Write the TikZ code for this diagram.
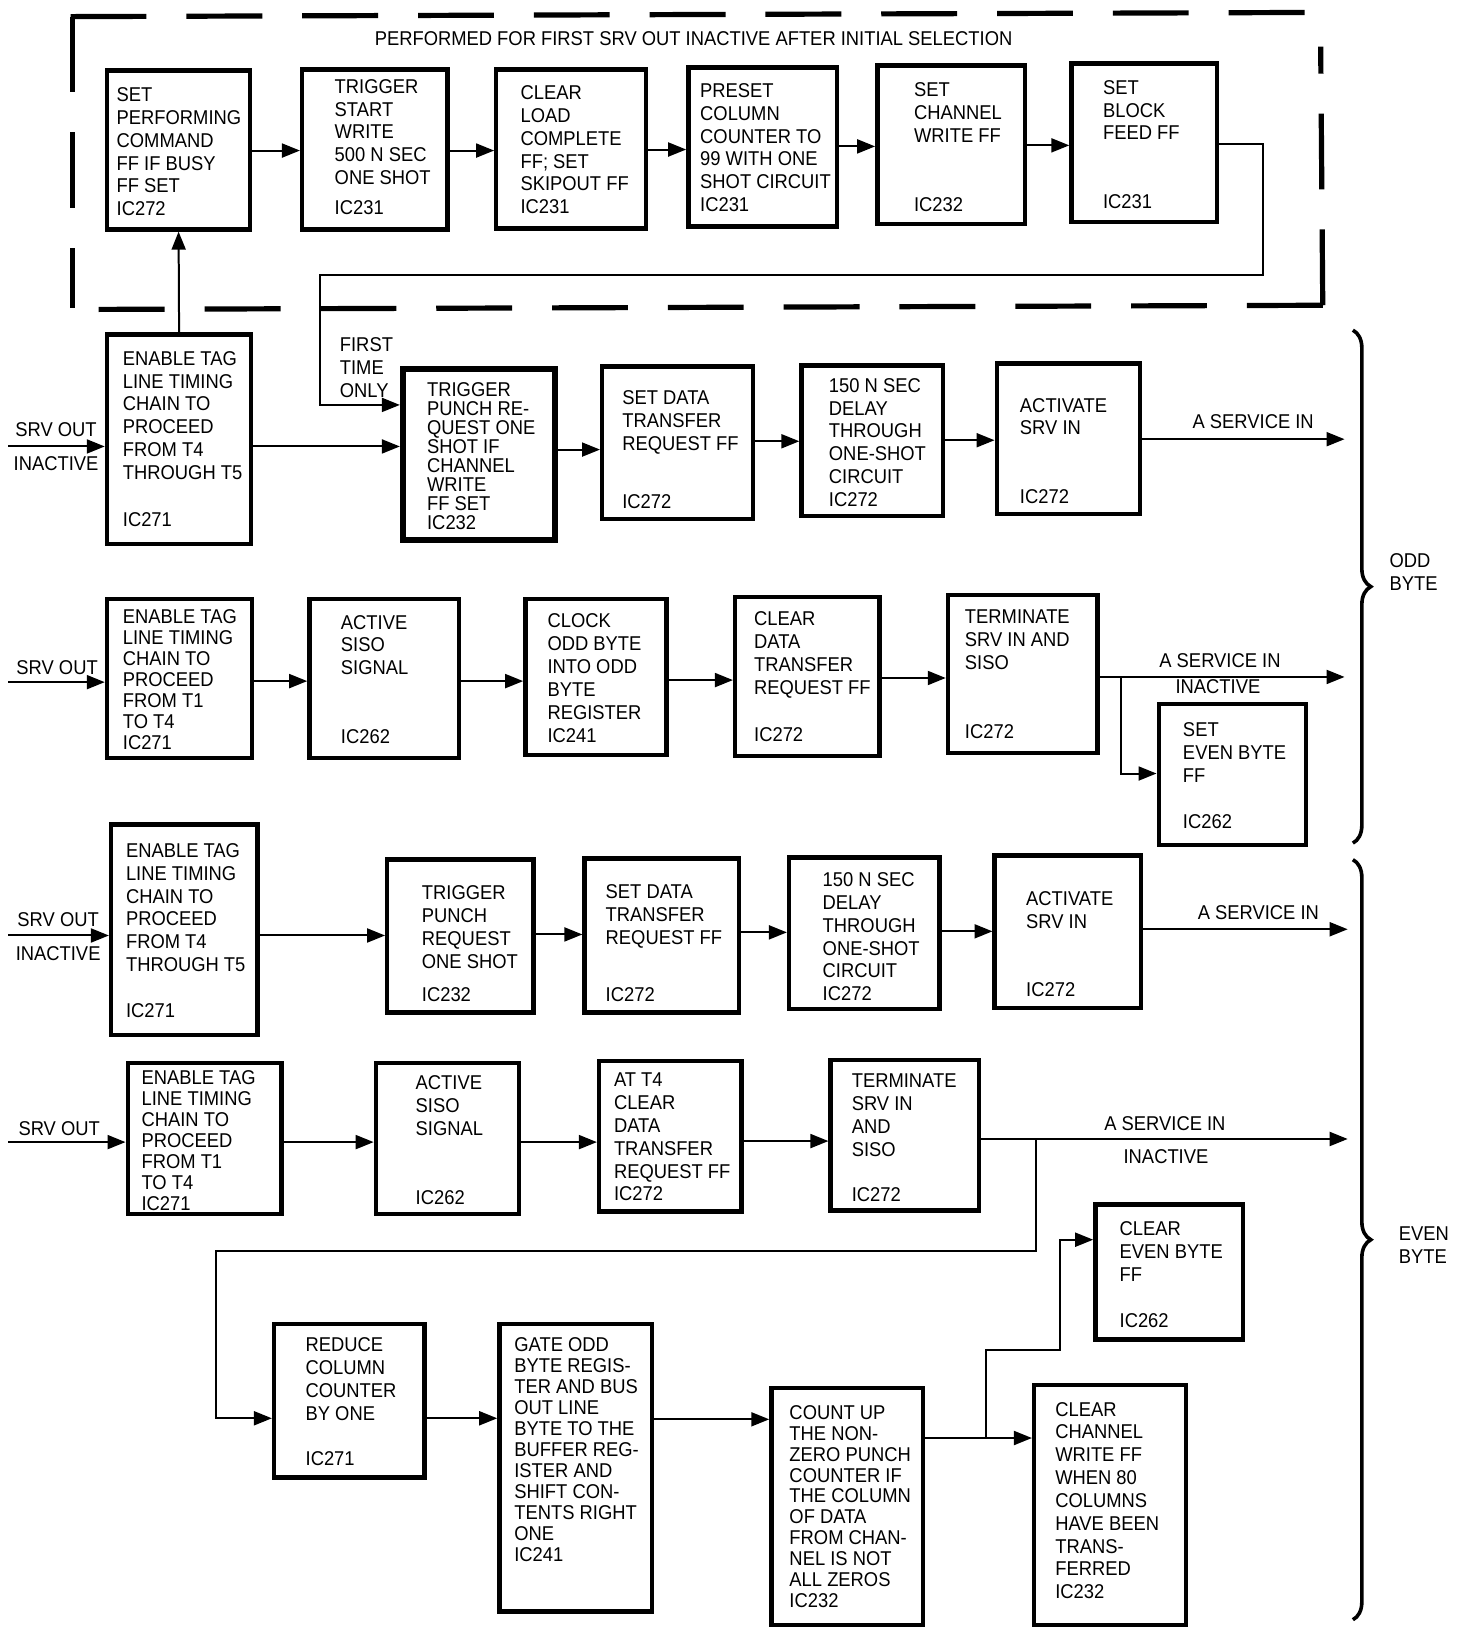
\documentclass[tikz,border=0pt]{standalone}
\usepackage{fontspec}
\setmainfont{Liberation Sans}[FakeStretch=0.92]
\usetikzlibrary{arrows.meta,decorations.pathreplacing}
\newcommand\BX[6][]{\node[box,#1, minimum width={(#5-#3)*0.52pt}, minimum height={(#6-#4)*0.52pt}] (#2) at ({(#3+#5)/2},{(#4+#6)/2}) {};}
\newcommand\TX[5][]{\node[txt,#1] (#2) at (#3,#4-7) {#5};}
\begin{document}
\begin{tikzpicture}[x=0.52pt,y=-0.52pt,
 box/.style={draw, rectangle, line width=2.2pt, inner sep=0pt},
 txt/.style={anchor=north west, inner sep=0pt, align=left, font=\fontsize{10}{11.44}\selectfont},
 tight/.style={font=\fontsize{10}{10.5}\selectfont},
 tighter/.style={font=\fontsize{10}{9.5}\selectfont},
 lbl/.style={inner sep=0pt, font=\fontsize{10}{11.44}\selectfont},
 arr/.style={-{Triangle[length=9pt,width=7pt]}, line width=1pt},
 dframe/.style={line width=2.6pt, dash pattern=on 38pt off 20pt},
 brc/.style={decorate, decoration={brace, amplitude=9pt}, line width=1.8pt}]
\useasboundingbox (0,0) rectangle (1404,1568);

% ---------- dashed frame ----------
\draw[dframe] (68,16) -- (1262,12);
\draw[dframe] (70,16) -- (70,297);
\draw[dframe] (1274,294) -- (95,298);
\draw[dframe] (1274,294) -- (1272,45);
\node[lbl] (title) at (668,37) {PERFORMED FOR FIRST SRV OUT INACTIVE AFTER INITIAL SELECTION};

% ---------- top row ----------
\BX{b1}{103}{68}{241}{221}
\TX{b1t}{112}{91}{SET\\PERFORMING\\COMMAND\\FF IF BUSY\\FF SET\\IC272}
\BX{b2}{291}{67}{431}{221}
\TX{b2t}{322}{83}{TRIGGER\\START\\WRITE\\500 N SEC\\ONE SHOT\\[3.6pt]IC231}
\BX{b3}{478}{67}{622}{220}
\TX{b3t}{501}{89}{CLEAR\\LOAD\\COMPLETE\\FF; SET\\SKIPOUT FF\\IC231}
\BX{b4}{663}{65}{806}{218}
\TX{b4t}{674}{87}{PRESET\\COLUMN\\COUNTER TO\\99 WITH ONE\\SHOT CIRCUIT\\IC231}
\BX{b5}{845}{63}{987}{216}
\TX{b5t}{880}{86}{SET\\CHANNEL\\WRITE FF\\[23.4pt]IC232}
\BX{b6}{1032}{61}{1172}{214}
\TX{b6t}{1062}{84}{SET\\BLOCK\\FEED FF\\[22.9pt]IC231}

% ---------- row 2 (odd byte) ----------
\BX{e1}{103}{322}{242}{524}
\TX{e1t}{118}{345}{ENABLE TAG\\LINE TIMING\\CHAIN TO\\PROCEED\\FROM T4\\THROUGH T5\\[12pt]IC271}
\BX[line width=3pt]{p1}{388}{355}{535}{520}
\TX[tighter]{p1t}{411}{375}{TRIGGER\\PUNCH RE-\\QUEST ONE\\SHOT IF\\CHANNEL\\WRITE\\FF SET\\IC232}
\TX{fto}{327}{332}{FIRST\\TIME\\ONLY}
\BX{s1}{580}{353}{725}{500}
\TX{s1t}{599}{383}{SET DATA\\TRANSFER\\REQUEST FF\\[17.7pt]IC272}
\BX{d1}{772}{352}{908}{497}
\TX{d1t}{798}{371}{150 N SEC\\DELAY\\THROUGH\\ONE-SHOT\\CIRCUIT\\IC272}
\BX{a1}{960}{350}{1098}{495}
\TX{a1t}{982}{390}{ACTIVATE\\SRV IN\\[22.9pt]IC272}
\node[lbl] (so1) at (54,414) {SRV OUT};
\node[lbl] (ia1) at (54,447) {INACTIVE};
\node[lbl] (asi1) at (1207,406) {A SERVICE IN};
\coordinate (in1) at (8,430);
\coordinate (out1) at (1295,423);

% ---------- row 3 ----------
\BX{e2}{103}{577}{243}{730}
\TX[tight]{e2t}{118}{594}{ENABLE TAG\\LINE TIMING\\CHAIN TO\\PROCEED\\FROM T1\\TO T4\\IC271}
\BX{as1}{298}{577}{442}{730}
\TX{as1t}{328}{599}{ACTIVE\\SISO\\SIGNAL\\[22.9pt]IC262}
\BX{c1}{506}{577}{642}{727}
\TX{c1t}{527}{598}{CLOCK\\ODD BYTE\\INTO ODD\\BYTE\\REGISTER\\IC241}
\BX{cl1}{708}{575}{847}{728}
\TX{cl1t}{726}{596}{CLEAR\\DATA\\TRANSFER\\REQUEST FF\\[12pt]IC272}
\BX{t1}{913}{573}{1057}{725}
\TX{t1t}{929}{594}{TERMINATE\\SRV IN AND\\SISO\\[23.4pt]IC272}
\BX{se}{1116}{678}{1258}{814}
\TX{set}{1139}{703}{SET\\EVEN BYTE\\FF\\[11.4pt]IC262}
\node[lbl] (so2) at (55,643) {SRV OUT};
\node[lbl] (asi2) at (1175,636) {A SERVICE IN};
\node[lbl] (ina2) at (1173,661) {INACTIVE};
\coordinate (in2) at (8,657);
\coordinate (out2) at (1295,652);
\coordinate (j1) at (1080,652);

% ---------- row 4 (even byte) ----------
\BX{e3}{107}{794}{248}{997}
\TX{e3t}{121}{819}{ENABLE TAG\\LINE TIMING\\CHAIN TO\\PROCEED\\FROM T4\\THROUGH T5\\[11.4pt]IC271}
\BX{tp2}{373}{828}{514}{975}
\TX{tp2t}{406}{860}{TRIGGER\\PUNCH\\REQUEST\\ONE SHOT\\[5.2pt]IC232}
\BX{s2}{563}{827}{712}{975}
\TX{s2t}{583}{859}{SET DATA\\TRANSFER\\REQUEST FF\\[17.2pt]IC272}
\BX{d2}{760}{826}{905}{972}
\TX{d2t}{792}{847}{150 N SEC\\DELAY\\THROUGH\\ONE-SHOT\\CIRCUIT\\IC272}
\BX{a2}{958}{824}{1099}{971}
\TX{a2t}{988}{865}{ACTIVATE\\SRV IN\\[22.9pt]IC272}
\node[lbl] (so3) at (56,886) {SRV OUT};
\node[lbl] (ia3) at (56,918) {INACTIVE};
\node[lbl] (asi3) at (1212,879) {A SERVICE IN};
\coordinate (in3) at (8,901);
\coordinate (out3) at (1298,895);

% ---------- row 5 ----------
\BX{e4}{123}{1024}{271}{1169}
\TX[tight]{e4t}{136}{1038}{ENABLE TAG\\LINE TIMING\\CHAIN TO\\PROCEED\\FROM T1\\TO T4\\IC271}
\BX{as2}{362}{1024}{500}{1169}
\TX{as2t}{400}{1043}{ACTIVE\\SISO\\SIGNAL\\[22.9pt]IC262}
\BX{at}{577}{1022}{714}{1167}
\TX{att}{591}{1040}{AT T4\\CLEAR\\DATA\\TRANSFER\\REQUEST FF\\IC272}
\BX{t2}{800}{1021}{943}{1166}
\TX{t2t}{820}{1041}{TERMINATE\\SRV IN\\AND\\SISO\\[11.4pt]IC272}
\node[lbl] (so4) at (57,1087) {SRV OUT};
\node[lbl] (asi4) at (1122,1082) {A SERVICE IN};
\node[lbl] (ina4) at (1123,1114) {INACTIVE};
\coordinate (in4) at (8,1100);
\coordinate (out4) at (1298,1097);
\coordinate (j2) at (998,1097);

% ---------- row 6 ----------
\BX{r}{264}{1275}{409}{1423}
\TX{rt}{294}{1295}{REDUCE\\COLUMN\\COUNTER\\BY ONE\\[11.4pt]IC271}
\BX{g}{481}{1275}{628}{1552}
\TX[tight]{gt}{495}{1295}{GATE ODD\\BYTE REGIS-\\TER AND BUS\\OUT LINE\\BYTE TO THE\\BUFFER REG-\\ISTER AND\\SHIFT CON-\\TENTS RIGHT\\ONE\\IC241}
\BX{cu}{743}{1337}{889}{1565}
\TX[tight]{cut}{760}{1360}{COUNT UP\\THE NON-\\ZERO PUNCH\\COUNTER IF\\THE COLUMN\\OF DATA\\FROM CHAN-\\NEL IS NOT\\ALL ZEROS\\IC232}
\BX{ce}{1055}{1160}{1197}{1290}
\TX{cet}{1078}{1183}{CLEAR\\EVEN BYTE\\FF\\[12pt]IC262}
\BX{cc}{996}{1334}{1142}{1565}
\TX{cct}{1016}{1357}{CLEAR\\CHANNEL\\WRITE FF\\WHEN 80\\COLUMNS\\HAVE BEEN\\TRANS-\\FERRED\\IC232}
\coordinate (j3) at (950,1385);

% ---------- braces ----------
\draw[brc] (1303,318) -- (1303,812);
\draw[brc] (1303,828) -- (1303,1560);
\TX{odd}{1338}{540}{ODD\\BYTE}
\TX{even}{1347}{1188}{EVEN\\BYTE}

% ---------- connectors ----------
\draw[arr] (b1.east |- 0,145) -- (b2.west |- 0,145);
\draw[arr] (b2.east |- 0,145) -- (b3.west |- 0,145);
\draw[arr] (b3.east |- 0,144) -- (b4.west |- 0,144);
\draw[arr] (b4.east |- 0,141) -- (b5.west |- 0,141);
\draw[arr] (b5.east |- 0,140) -- (b6.west |- 0,140);
\draw[arr] (b6.east |- 0,139) -- (1216,139) -- (1216,265) -- (308,265) -- (308,390) -- (p1.west |- 0,390);
\draw[arr] (e1.north) -- (b1.south);

\draw[arr] (in1) -- (in1 -| e1.west);
\draw[arr] (e1.east |- 0,430) -- (p1.west |- 0,430);
\draw[arr] (p1.east |- 0,433) -- (s1.west |- 0,433);
\draw[arr] (s1.east |- 0,425) -- (d1.west |- 0,425);
\draw[arr] (d1.east |- 0,424) -- (a1.west |- 0,424);
\draw[arr] (a1.east |- out1) -- (out1);

\draw[arr] (in2) -- (in2 -| e2.west);
\draw[arr] (e2.east |- 0,656) -- (as1.west |- 0,656);
\draw[arr] (as1.east |- 0,656) -- (c1.west |- 0,656);
\draw[arr] (c1.east |- 0,655) -- (cl1.west |- 0,655);
\draw[arr] (cl1.east |- 0,653) -- (t1.west |- 0,653);
\draw[arr] (t1.east |- out2) -- (out2);
\draw[arr] (j1) -- (1080,745) -- (se.west |- 0,745);

\draw[arr] (in3) -- (in3 -| e3.west);
\draw[arr] (e3.east |- 0,901) -- (tp2.west |- 0,901);
\draw[arr] (tp2.east |- 0,900) -- (s2.west |- 0,900);
\draw[arr] (s2.east |- 0,898) -- (d2.west |- 0,898);
\draw[arr] (d2.east |- 0,897) -- (a2.west |- 0,897);
\draw[arr] (a2.east |- out3) -- (out3);

\draw[arr] (in4) -- (in4 -| e4.west);
\draw[arr] (e4.east |- 0,1100) -- (as2.west |- 0,1100);
\draw[arr] (as2.east |- 0,1100) -- (at.west |- 0,1100);
\draw[arr] (at.east |- 0,1099) -- (t2.west |- 0,1099);
\draw[arr] (t2.east |- out4) -- (out4);
\draw[arr] (j2) -- (998,1205) -- (208,1205) -- (208,1366) -- (r.west |- 0,1366);

\draw[arr] (r.east |- 0,1366) -- (g.west |- 0,1366);
\draw[arr] (g.east |- 0,1367) -- (cu.west |- 0,1367);
\draw[arr] (cu.east |- 0,1385) -- (cc.west |- 0,1385);
\draw[arr] (j3) -- (950,1300) -- (1021,1300) -- (1021,1194) -- (ce.west |- 0,1194);
\end{tikzpicture}
\end{document}
